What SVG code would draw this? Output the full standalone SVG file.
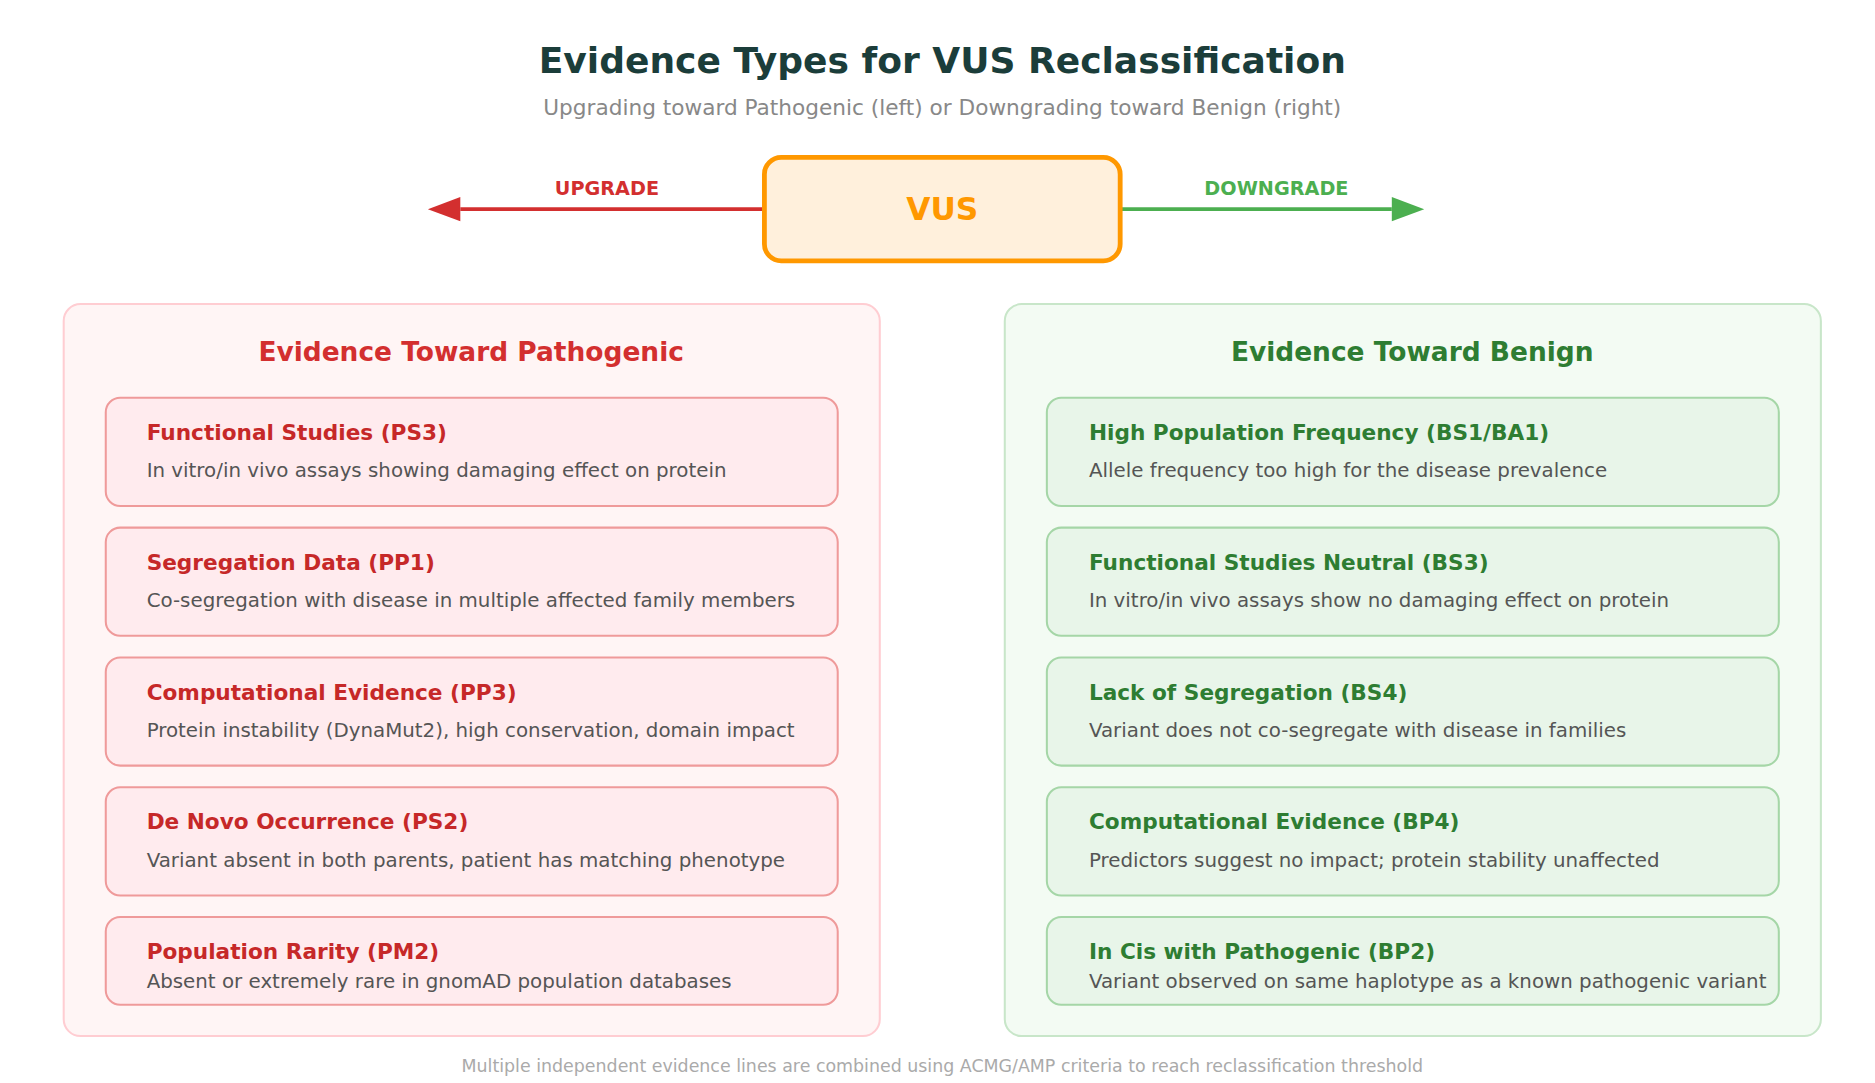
<svg xmlns="http://www.w3.org/2000/svg" width="1875" height="1083" viewBox="0 0 1875 1083">
<style>
text{font-family:"DejaVu Sans",sans-serif}
.t{font-size:18px;font-weight:bold}
.d{font-size:16.5px;fill:#555}
.pc{fill:#ffebee;stroke:#ef9a9a;stroke-width:1.7}
.bc{fill:#e8f5e9;stroke:#a5d6a7;stroke-width:1.7}
.pt{fill:#c62828}
.bt{fill:#2e7d32}
</style>
<defs>
<marker id="ar" viewBox="0 0 10 10" refX="10" refY="5" markerWidth="9" markerHeight="7" markerUnits="userSpaceOnUse" orient="auto"><path d="M0 0L10 5L0 10z" fill="#d32f2f"/></marker>
<marker id="ag" viewBox="0 0 10 10" refX="10" refY="5" markerWidth="9" markerHeight="7" markerUnits="userSpaceOnUse" orient="auto"><path d="M0 0L10 5L0 10z" fill="#4caf50"/></marker>
</defs>
<rect width="1875" height="1083" fill="#fff"/>
<g transform="scale(1.2019)">
<g id="title">
<text x="784" y="61" text-anchor="middle" font-size="30" font-weight="bold" fill="#1b3d3a">Evidence Types for VUS Reclassification</text>
<text x="784" y="96" text-anchor="middle" font-size="18" fill="#888">Upgrading toward Pathogenic (left) or Downgrading toward Benign (right)</text>
</g>
<g id="connectors">
<line x1="636" y1="174" x2="383" y2="174" stroke="#d32f2f" stroke-width="3"/>
<path d="M383 164L356 174L383 184z" fill="#d32f2f"/>
<text x="505" y="162" text-anchor="middle" font-size="16" font-weight="bold" fill="#d32f2f">UPGRADE</text>
<line x1="932" y1="174" x2="1158" y2="174" stroke="#4caf50" stroke-width="3"/>
<path d="M1158 164L1185 174L1158 184z" fill="#4caf50"/>
<text x="1062" y="162" text-anchor="middle" font-size="16" font-weight="bold" fill="#4caf50">DOWNGRADE</text>
</g>
<g id="vus">
<rect x="636" y="131" width="296" height="86" rx="14" fill="#fff0dc" stroke="#ff9800" stroke-width="4"/>
<text x="784" y="183" text-anchor="middle" font-size="26" font-weight="bold" fill="#ff9800">VUS</text>
</g>
<g id="pathogenic">
<rect x="53" y="253" width="679" height="609" rx="14" fill="#fff5f5" stroke="#ffcdd2" stroke-width="1.7"/>
<text x="392" y="300" text-anchor="middle" font-size="22" font-weight="bold" fill="#d32f2f">Evidence Toward Pathogenic</text>
</g>
<g id="ps3"><rect class="pc" x="88" y="331" width="609" height="90" rx="12"/><text class="t pt" x="122" y="366">Functional Studies (PS3)</text><text class="d" x="122" y="397">In vitro/in vivo assays showing damaging effect on protein</text></g>
<g id="pp1"><rect class="pc" x="88" y="439" width="609" height="90" rx="12"/><text class="t pt" x="122" y="474">Segregation Data (PP1)</text><text class="d" x="122" y="505">Co-segregation with disease in multiple affected family members</text></g>
<g id="pp3"><rect class="pc" x="88" y="547" width="609" height="90" rx="12"/><text class="t pt" x="122" y="582">Computational Evidence (PP3)</text><text class="d" x="122" y="613">Protein instability (DynaMut2), high conservation, domain impact</text></g>
<g id="ps2"><rect class="pc" x="88" y="655" width="609" height="90" rx="12"/><text class="t pt" x="122" y="690">De Novo Occurrence (PS2)</text><text class="d" x="122" y="721">Variant absent in both parents, patient has matching phenotype</text></g>
<g id="pm2"><rect class="pc" x="88" y="763" width="609" height="73" rx="12"/><text class="t pt" x="122" y="798">Population Rarity (PM2)</text><text class="d" x="122" y="822">Absent or extremely rare in gnomAD population databases</text></g>
<g id="benign">
<rect x="836" y="253" width="679" height="609" rx="14" fill="#f3fbf3" stroke="#c8e6c9" stroke-width="1.7"/>
<text x="1175" y="300" text-anchor="middle" font-size="22" font-weight="bold" fill="#2e7d32">Evidence Toward Benign</text>
</g>
<g id="bs1"><rect class="bc" x="871" y="331" width="609" height="90" rx="12"/><text class="t bt" x="906" y="366">High Population Frequency (BS1/BA1)</text><text class="d" x="906" y="397">Allele frequency too high for the disease prevalence</text></g>
<g id="bs3"><rect class="bc" x="871" y="439" width="609" height="90" rx="12"/><text class="t bt" x="906" y="474">Functional Studies Neutral (BS3)</text><text class="d" x="906" y="505">In vitro/in vivo assays show no damaging effect on protein</text></g>
<g id="bs4"><rect class="bc" x="871" y="547" width="609" height="90" rx="12"/><text class="t bt" x="906" y="582">Lack of Segregation (BS4)</text><text class="d" x="906" y="613">Variant does not co-segregate with disease in families</text></g>
<g id="bp4"><rect class="bc" x="871" y="655" width="609" height="90" rx="12"/><text class="t bt" x="906" y="690">Computational Evidence (BP4)</text><text class="d" x="906" y="721">Predictors suggest no impact; protein stability unaffected</text></g>
<g id="bp2"><rect class="bc" x="871" y="763" width="609" height="73" rx="12"/><text class="t bt" x="906" y="798">In Cis with Pathogenic (BP2)</text><text class="d" x="906" y="822">Variant observed on same haplotype as a known pathogenic variant</text></g>
<text x="784" y="892" text-anchor="middle" font-size="14.5" fill="#aaa">Multiple independent evidence lines are combined using ACMG/AMP criteria to reach reclassification threshold</text>
</g>
</svg>
